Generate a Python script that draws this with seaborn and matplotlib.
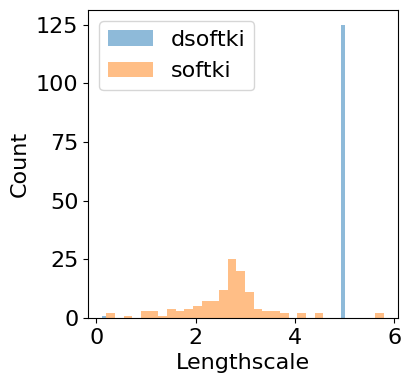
import numpy as np
import seaborn as sns
import matplotlib
matplotlib.use("Agg")
import matplotlib.pyplot as plt

# histogram counts
# dsoftki: 60 bins between 0.12 and 5.0, only two bins filled
dsoftki_centers = [0.16, 4.96]
dsoftki_counts = [1, 125]
dsoftki_range = (0.12, 5.0)
dsoftki_bins = 60

# softki: 32 bins between 0.20 and 5.79
softki_counts = [2, 0, 1, 0, 3, 3, 1, 4, 3, 4, 5, 7, 7, 12, 25, 20,
                 11, 4, 3, 3, 2, 0, 2, 0, 2, 0, 0, 0, 0, 0, 0, 2]
softki_range = (0.20, 5.79)

softki_edges = np.linspace(softki_range[0], softki_range[1], len(softki_counts) + 1)
softki_centers = (softki_edges[:-1] + softki_edges[1:]) / 2

plt.rcParams['font.size'] = 16

fig, ax = plt.subplots(figsize=(4.1, 3.83), dpi=100)
fig.subplots_adjust(left=0.215, right=0.971, bottom=0.17, top=0.974)

sns.histplot(x=dsoftki_centers, weights=dsoftki_counts, bins=dsoftki_bins,
             binrange=dsoftki_range, color='C0', alpha=0.5, linewidth=0,
             label='dsoftki', ax=ax)
sns.histplot(x=softki_centers, weights=softki_counts, bins=len(softki_counts),
             binrange=softki_range, color='C1', alpha=0.5, linewidth=0,
             label='softki', ax=ax)

ax.set_xlabel('Lengthscale')
ax.set_ylabel('Count')
ax.set_xticks([0, 2, 4, 6])
ax.set_yticks([0, 25, 50, 75, 100, 125])
ax.legend(loc='upper left')

fig.savefig('out.png', dpi=100)
